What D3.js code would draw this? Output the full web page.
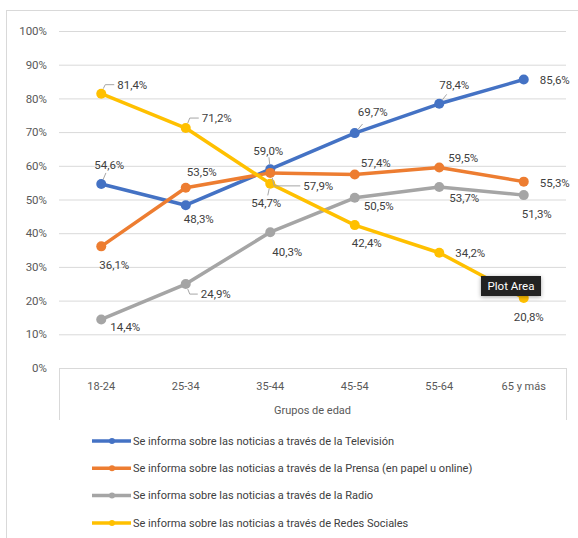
<!DOCTYPE html>
<html>
<head>
<meta charset="utf-8">
<script src="https://cdn.jsdelivr.net/npm/d3@7"></script>
<style>
  body { margin: 0; background: #fff; }
  text { font-family: Roboto, "Noto Sans", sans-serif; }
</style>
</head>
<body>
<div id="chart"></div>
<script>
const width = 578;
const height = 538;

// data
const categories = ["18-24", "25-34", "35-44", "45-54", "55-64", "65 y más"];
const television = [54.6, 48.3, 59.0, 69.7, 78.4, 85.6];
const prensa = [36.1, 53.5, 57.9, 57.4, 59.5, 55.3];
const radio = [14.4, 24.9, 40.3, 50.5, 53.7, 51.3];
const redes = [81.4, 71.2, 54.7, 42.4, 34.2, 20.8];
const yTicks = [0, 10, 20, 30, 40, 50, 60, 70, 80, 90, 100];
const seriesNames = [
  "Se informa sobre las noticias a través de la Televisión",
  "Se informa sobre las noticias a través de la Prensa (en papel u online)",
  "Se informa sobre las noticias  a través de la Radio",
  "Se informa sobre las noticias a través de Redes Sociales"
];
const colors = ["#4472C4", "#ED7D31", "#A5A5A5", "#FFC000"];

// label offsets (px, label centre relative to point) and leader type
const labelPos = [
  [[8, -19, "s"], [13, 14, ""], [-2, -18, "s"], [18, -21, "s"], [15, -19, "s"], [31, 0, ""]],
  [[13, 19, ""], [16, -16, ""], [48, 13, "e"], [21, -12, ""], [24, -10, ""], [31, 1, ""]],
  [[24, 8, ""], [30, 10, "e"], [17, 20, ""], [24, 8, ""], [25, 11, ""], [13, 19, ""]],
  [[31, -9, "e"], [31, -10, "e"], [-4, 19, "s"], [12, 18, ""], [31, 0, ""], [5, 19, ""]]
];

const allSeries = [television, prensa, radio, redes];

const svg = d3.select("#chart").append("svg")
  .attr("width", width)
  .attr("height", height);

// outer chart border
svg.append("rect")
  .attr("x", 6.5).attr("y", 10.5)
  .attr("width", 600).attr("height", 600)
  .attr("fill", "none")
  .attr("stroke", "#d9d9d9");

const plotLeft = 59, plotRight = 566, plotTop = 31, plotBottom = 368;

const x = d3.scaleBand().domain(categories).range([plotLeft, plotRight]);
const y = d3.scaleLinear().domain([0, 100]).range([plotBottom, plotTop]);
const cx = d => x(d) + x.bandwidth() / 2;

// grid + y labels
const yAxis = svg.append("g")
  .attr("transform", `translate(${plotLeft},0)`)
  .call(d3.axisLeft(y).tickValues(yTicks).tickSize(-(plotRight - plotLeft)).tickPadding(12).tickFormat(d => d + "%"));
yAxis.select(".domain").remove();
yAxis.selectAll("line").attr("stroke", "#d9d9d9");
yAxis.selectAll("text")
  .attr("fill", "#595959")
  .style("font-size", "11.5px");

// category axis box
svg.append("g").selectAll("line")
  .data([plotLeft, plotRight])
  .enter().append("line")
    .attr("x1", d => d + 0.5).attr("x2", d => d + 0.5)
    .attr("y1", plotBottom).attr("y2", 420)
    .attr("stroke", "#d9d9d9");

svg.append("g").selectAll("text")
  .data(categories)
  .enter().append("text")
    .attr("x", d => cx(d))
    .attr("y", 386)
    .attr("dy", "0.35em")
    .attr("text-anchor", "middle")
    .attr("fill", "#595959")
    .style("font-size", "11px")
    .text(d => d);

svg.append("text")
  .attr("x", (plotLeft + plotRight) / 2)
  .attr("y", 410)
  .attr("dy", "0.35em")
  .attr("text-anchor", "middle")
  .attr("fill", "#595959")
  .style("font-size", "11px")
  .text("Grupos de edad");

// lines
const line = d3.line()
  .x((d, i) => cx(categories[i]))
  .y(d => y(d));

allSeries.forEach((s, k) => {
  const g = svg.append("g");
  g.append("path")
    .datum(s)
    .attr("d", line)
    .attr("fill", "none")
    .attr("stroke", colors[k])
    .attr("stroke-width", 3.5)
    .attr("stroke-linejoin", "round");
  g.selectAll("circle")
    .data(s)
    .enter().append("circle")
      .attr("cx", (d, i) => cx(categories[i]))
      .attr("cy", d => y(d))
      .attr("r", 5)
      .attr("fill", colors[k]);
});

// data labels + leaders
const fmt = v => v.toFixed(1).replace(".", ",") + "%";
const labels = svg.append("g");
allSeries.forEach((s, k) => {
  s.forEach((v, i) => {
    const px = cx(categories[i]), py = y(v);
    const [dx, dy, lead] = labelPos[k][i];
    const lx = px + dx, ly = py + dy;
    if (lead === "s") {
      const ang = Math.atan2(dy, dx);
      const x1 = px + Math.cos(ang) * 5, y1 = py + Math.sin(ang) * 5;
      const x2 = px + Math.cos(ang) * 12, y2 = py + Math.sin(ang) * 12;
      labels.append("line")
        .attr("x1", x1).attr("y1", y1).attr("x2", x2).attr("y2", y2)
        .attr("stroke", "#a6a6a6").attr("stroke-width", 1);
    } else if (lead === "e") {
      const ex = lx - 18;
      const sy = dy > 0 ? py + 5 : py - 5;
      labels.append("path")
        .attr("d", `M${px + 2},${sy} L${px + 4},${ly} L${ex},${ly}`)
        .attr("fill", "none")
        .attr("stroke", "#a6a6a6").attr("stroke-width", 1);
    }
    labels.append("text")
      .attr("x", lx)
      .attr("y", ly)
      .attr("dy", "0.35em")
      .attr("text-anchor", "middle")
      .attr("fill", "#404040")
      .style("font-size", "11.5px")
      .text(fmt(v));
  });
});

// legend
const legend = svg.append("g");
seriesNames.forEach((name, k) => {
  const ly = 441 + k * 27.3;
  legend.append("line")
    .attr("x1", 92).attr("x2", 131)
    .attr("y1", ly).attr("y2", ly)
    .attr("stroke", colors[k])
    .attr("stroke-width", 3.5);
  legend.append("circle")
    .attr("cx", 112).attr("cy", ly).attr("r", 3)
    .attr("fill", colors[k]);
  legend.append("text")
    .attr("x", 133)
    .attr("y", ly)
    .attr("dy", "0.35em")
    .attr("fill", "#404040")
    .style("font-size", "11px")
    .text(name);
});

// "Plot Area" tooltip
const tip = svg.append("g").attr("transform", "translate(481,276)");
tip.append("rect")
  .attr("width", 60).attr("height", 20)
  .attr("fill", "#222")
  .style("filter", "drop-shadow(0 1px 2px rgba(0,0,0,0.35))");
tip.append("text")
  .attr("x", 30).attr("y", 10)
  .attr("dy", "0.35em")
  .attr("text-anchor", "middle")
  .attr("fill", "#fff")
  .style("font-size", "11.5px")
  .text("Plot Area");
</script>
</body>
</html>
